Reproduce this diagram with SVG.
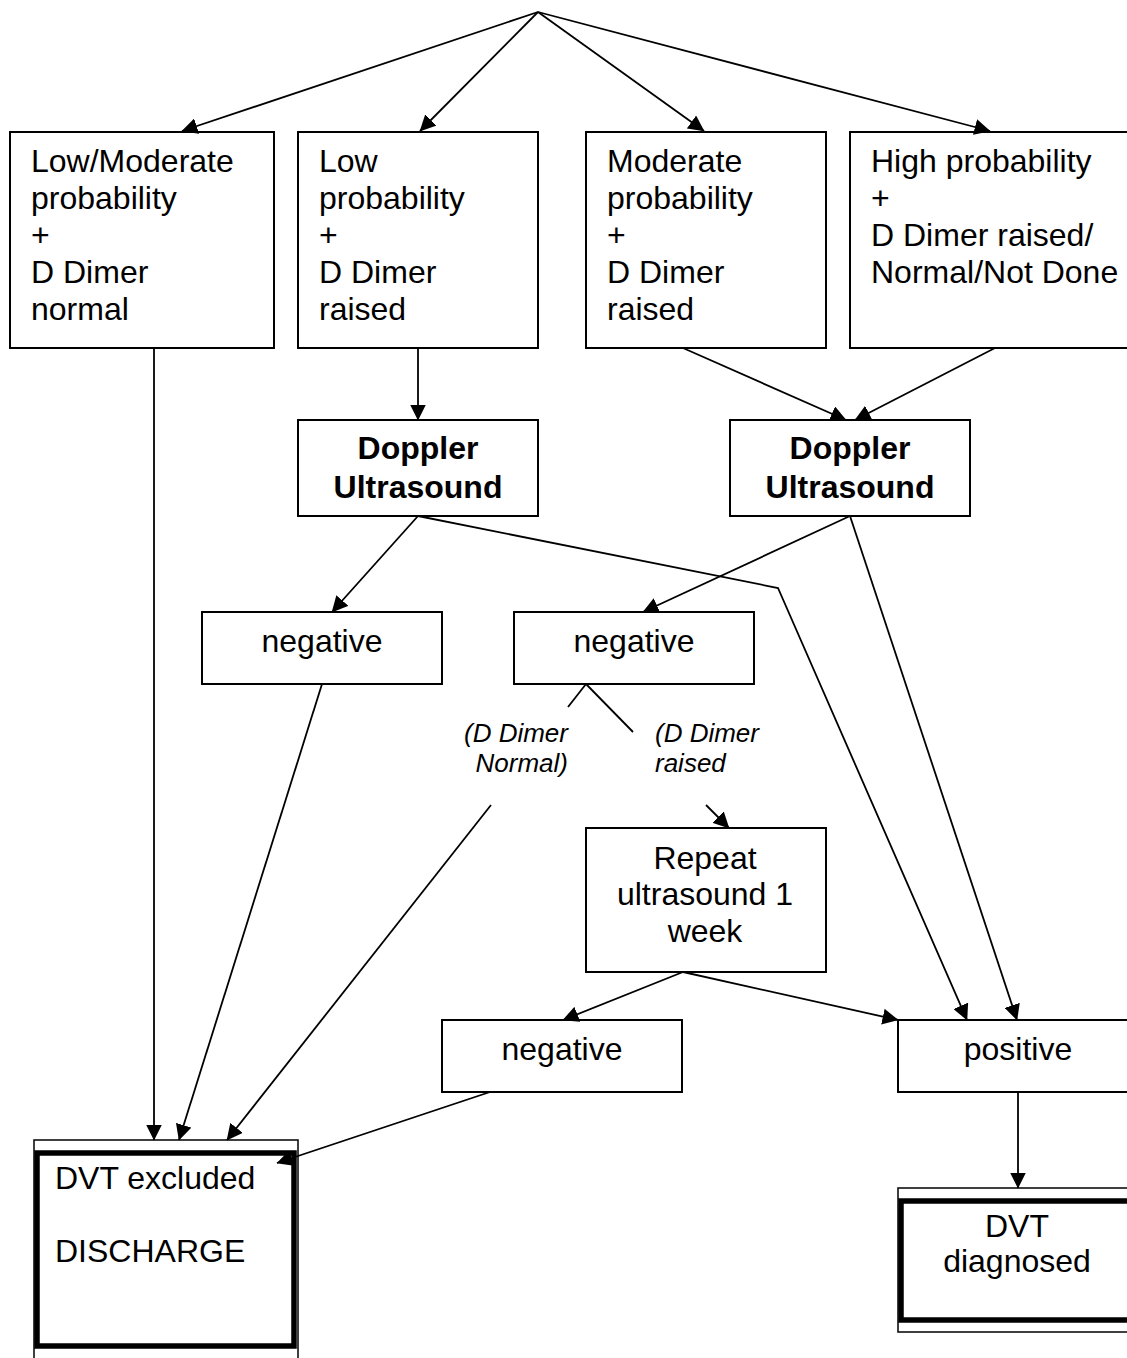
<svg xmlns="http://www.w3.org/2000/svg" width="1127" height="1358" viewBox="0 0 1127 1358">
<style>
  .box { fill: #fff; stroke: #000; stroke-width: 2; }
  .thin { fill: #fff; stroke: #000; stroke-width: 1.5; }
  .thick { fill: none; stroke: #000; stroke-width: 5.5; }
  .t { font-family: "Liberation Sans", Arial, sans-serif; font-size: 32px; fill: #000; }
  .b { font-weight: bold; }
  .c { text-anchor: middle; }
  .i { font-family: "Liberation Sans", Arial, sans-serif; font-size: 26px; font-style: italic; fill: #000; }
  .ln { fill: none; stroke: #000; stroke-width: 1.8; }
  .a { marker-end: url(#ah); }
</style>
<defs>
  <marker id="ah" markerUnits="userSpaceOnUse" markerWidth="16" markerHeight="16" viewBox="0 0 15 15" refX="14.5" refY="7.5" orient="auto">
    <path d="M0,0 L15,7.5 L0,15 z" fill="#000"/>
  </marker>
</defs>
<rect width="1127" height="1358" fill="#fff"/>

<g id="n-lowmod">
  <rect class="box" x="10" y="132" width="264" height="216"/>
  <text class="t" x="31" y="172">Low/Moderate</text>
  <text class="t" x="31" y="209">probability</text>
  <text class="t" x="31" y="246">+</text>
  <text class="t" x="31" y="283">D Dimer</text>
  <text class="t" x="31" y="320">normal</text>
</g>
<g id="n-low">
  <rect class="box" x="298" y="132" width="240" height="216"/>
  <text class="t" x="319" y="172">Low</text>
  <text class="t" x="319" y="209">probability</text>
  <text class="t" x="319" y="246">+</text>
  <text class="t" x="319" y="283">D Dimer</text>
  <text class="t" x="319" y="320">raised</text>
</g>
<g id="n-mod">
  <rect class="box" x="586" y="132" width="240" height="216"/>
  <text class="t" x="607" y="172">Moderate</text>
  <text class="t" x="607" y="209">probability</text>
  <text class="t" x="607" y="246">+</text>
  <text class="t" x="607" y="283">D Dimer</text>
  <text class="t" x="607" y="320">raised</text>
</g>
<g id="n-high">
  <rect class="box" x="850" y="132" width="290" height="216"/>
  <text class="t" x="871" y="172">High probability</text>
  <text class="t" x="871" y="209">+</text>
  <text class="t" x="871" y="246">D Dimer raised/</text>
  <text class="t" x="871" y="283">Normal/Not Done</text>
</g>
<g id="n-doppler1">
  <rect class="box" x="298" y="420" width="240" height="96"/>
  <text class="t b c" x="418" y="459">Doppler</text>
  <text class="t b c" x="418" y="498">Ultrasound</text>
</g>
<g id="n-doppler2">
  <rect class="box" x="730" y="420" width="240" height="96"/>
  <text class="t b c" x="850" y="459">Doppler</text>
  <text class="t b c" x="850" y="498">Ultrasound</text>
</g>
<g id="n-neg1">
  <rect class="box" x="202" y="612" width="240" height="72"/>
  <text class="t c" x="322" y="652">negative</text>
</g>
<g id="n-neg2">
  <rect class="box" x="514" y="612" width="240" height="72"/>
  <text class="t c" x="634" y="652">negative</text>
</g>
<g id="l-ddnormal">
  <text class="i" x="568" y="742" text-anchor="end">(D Dimer</text>
  <text class="i" x="568" y="772" text-anchor="end">Normal)</text>
</g>
<g id="l-ddraised">
  <text class="i" x="655" y="742">(D Dimer</text>
  <text class="i" x="655" y="772">raised</text>
</g>
<g id="n-repeat">
  <rect class="box" x="586" y="828" width="240" height="144"/>
  <text class="t c" x="705" y="869">Repeat</text>
  <text class="t c" x="705" y="905">ultrasound 1</text>
  <text class="t c" x="705" y="942">week</text>
</g>
<g id="n-neg3">
  <rect class="box" x="442" y="1020" width="240" height="72"/>
  <text class="t c" x="562" y="1060">negative</text>
</g>
<g id="n-pos">
  <rect class="box" x="898" y="1020" width="240" height="72"/>
  <text class="t c" x="1018" y="1060">positive</text>
</g>
<g id="n-excluded">
  <rect class="thin" x="34" y="1140" width="264" height="240"/>
  <rect class="thick" x="37" y="1153" width="257" height="193"/>
  <text class="t" x="55" y="1189">DVT excluded</text>
  <text class="t" x="55" y="1262">DISCHARGE</text>
</g>
<g id="n-diagnosed">
  <rect class="thin" x="898" y="1188" width="240" height="144"/>
  <rect class="thick" x="901" y="1201" width="240" height="119"/>
  <text class="t c" x="1017" y="1237">DVT</text>
  <text class="t c" x="1017" y="1272">diagnosed</text>
</g>

<g id="connectors">
  <line class="ln a" x1="538" y1="12" x2="182" y2="131"/>
  <line class="ln a" x1="538" y1="12" x2="420" y2="131"/>
  <line class="ln a" x1="538" y1="12" x2="704" y2="131"/>
  <line class="ln a" x1="538" y1="12" x2="990" y2="131"/>
  <line class="ln a" x1="154" y1="348" x2="154" y2="1140"/>
  <line class="ln a" x1="418" y1="348" x2="418" y2="420"/>
  <line class="ln a" x1="683" y1="348" x2="846" y2="420"/>
  <line class="ln a" x1="995" y1="348" x2="855" y2="420"/>
  <line class="ln a" x1="418" y1="516" x2="332" y2="612"/>
  <polyline class="ln a" points="418,516 778,588 967,1020"/>
  <line class="ln a" x1="850" y1="516" x2="643" y2="612"/>
  <line class="ln a" x1="850" y1="516" x2="1017" y2="1020"/>
  <line class="ln a" x1="322" y1="684" x2="179" y2="1140"/>
  <line class="ln" x1="586" y1="684" x2="568" y2="707"/>
  <line class="ln" x1="586" y1="684" x2="633" y2="732"/>
  <line class="ln a" x1="491" y1="805" x2="227" y2="1140"/>
  <line class="ln a" x1="706" y1="805" x2="729" y2="828"/>
  <line class="ln a" x1="683" y1="972" x2="563" y2="1020"/>
  <line class="ln a" x1="683" y1="972" x2="898" y2="1020"/>
  <line class="ln a" x1="490" y1="1092" x2="277" y2="1163"/>
  <line class="ln a" x1="1018" y1="1092" x2="1018" y2="1188"/>
</g>
</svg>
